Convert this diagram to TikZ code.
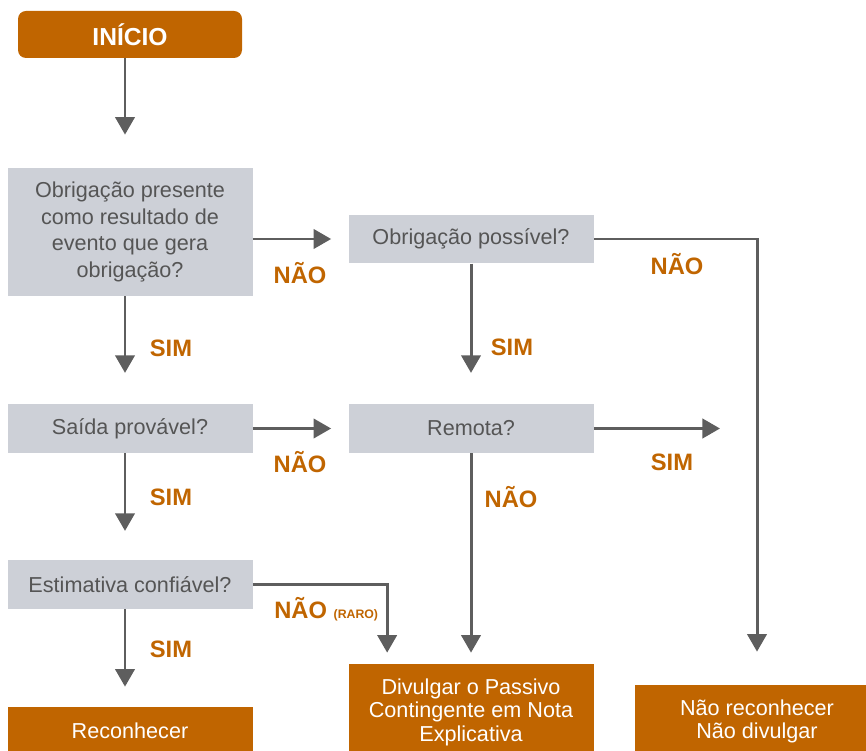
\documentclass[tikz,border=0pt]{standalone}
\usepackage{fontspec}
\setmainfont{Liberation Sans}
\usepackage{tikz}
\usepackage{xcolor}
\usetikzlibrary{calc}
\usetikzlibrary{positioning}
\usetikzlibrary{arrows.meta}

\definecolor{laranja}{RGB}{192,101,0}
\definecolor{cinza}{RGB}{205,208,215}
\definecolor{texto}{RGB}{85,85,85}
\definecolor{seta}{RGB}{94,94,94}

\tikzset{
  pergunta/.style={fill=cinza, text=texto, minimum width=4.9cm, minimum height=0.97cm,
    align=center, inner sep=0pt, font=\fontsize{12.3}{15.1}\selectfont},
  fim/.style={fill=laranja, text=white, minimum width=4.9cm,
    align=center, inner sep=0pt, font=\fontsize{12.3}{13.4}\selectfont},
  rotulo/.style={text=laranja, font=\fontsize{13.5}{14}\selectfont\bfseries},
  arr/.style={draw=seta, line width=1.7pt, -{Triangle[length=10pt,width=11pt]}},
}

\begin{document}
\begin{tikzpicture}
\useasboundingbox (0,0) rectangle (17.32,-15.02);

\node[fill=laranja, rounded corners=0.16cm, minimum width=4.48cm, minimum height=0.94cm,
  text=white, font=\fontsize{14}{16}\selectfont\bfseries] (inicio) at (2.6,-0.69) {INÍCIO};

\node[pergunta, minimum height=2.56cm] (presente) at (2.6,-4.64)
  {Obrigação presente\\como resultado de\\evento que gera\\obrigação?};
\node[pergunta] (possivel) at (9.42,-4.78) {Obrigação possível?};
\node[pergunta] (saida) at (2.6,-8.57) {Saída provável?};
\node[pergunta] (remota) at (9.42,-8.57) {Remota?};
\node[pergunta] (estimativa) at (2.6,-11.69) {Estimativa confiável?};

\node[fim, minimum height=0.96cm] (reconhecer) at (2.6,-14.62) {Reconhecer};
\node[fim, minimum height=1.92cm] (divulgar) at (9.42,-14.24)
  {Divulgar o Passivo\\Contingente em Nota\\Explicativa};
\node[fim, minimum height=1.46cm] (naorec) at (15.14,-14.43)
  {Não reconhecer\\Não divulgar};

\coordinate (livre) at (14.4,-8.57);

% setas
\draw[arr] ([xshift=-1mm]inicio.south) -- ([xshift=-1mm,yshift=6.6mm]presente.north);
\draw[arr] (presente.east |- possivel) -- ([xshift=-3.4mm]possivel.west);
\draw[arr] (possivel.east) -| ([yshift=6.6mm]naorec.north);
\draw[arr] ([xshift=-1mm]presente.south) -- ([xshift=-1mm,yshift=6.2mm]saida.north);
\draw[arr] (possivel.south) -- ([yshift=6.2mm]remota.north);
\draw[arr] (saida.east) -- ([xshift=-3.4mm]remota.west);
\draw[arr] (remota.east) -- (livre);
\draw[arr] ([xshift=-1mm]saida.south) -- ([xshift=-1mm,yshift=5.8mm]estimativa.north);
\draw[arr] (remota.south) -- ([yshift=2.2mm]divulgar.north);
\draw[arr] (estimativa.east) -| ([xshift=0.78cm,yshift=2.2mm]divulgar.north west);
\draw[arr] ([xshift=-1mm]estimativa.south) -- ([xshift=-1mm,yshift=4mm]reconhecer.north);

\node[rotulo] (n1) at (6.0,-5.46) {NÃO};
\node[rotulo] (n2) at (13.54,-5.28) {NÃO};
\node[rotulo] (s1) at (3.42,-6.96) {SIM};
\node[rotulo] (s2) at (10.24,-6.94) {SIM};
\node[rotulo] (n3) at (6.0,-9.24) {NÃO};
\node[rotulo] (s3) at (13.44,-9.24) {SIM};
\node[rotulo] (s4) at (3.42,-9.94) {SIM};
\node[rotulo] (n4) at (10.22,-9.94) {NÃO};
\node[rotulo, anchor=west, inner sep=0pt] (n5) at (5.48,-12.18)
  {NÃO {\fontsize{7}{8}\selectfont(RARO)}};
\node[rotulo] (s5) at (3.42,-12.98) {SIM};

\end{tikzpicture}
\end{document}
